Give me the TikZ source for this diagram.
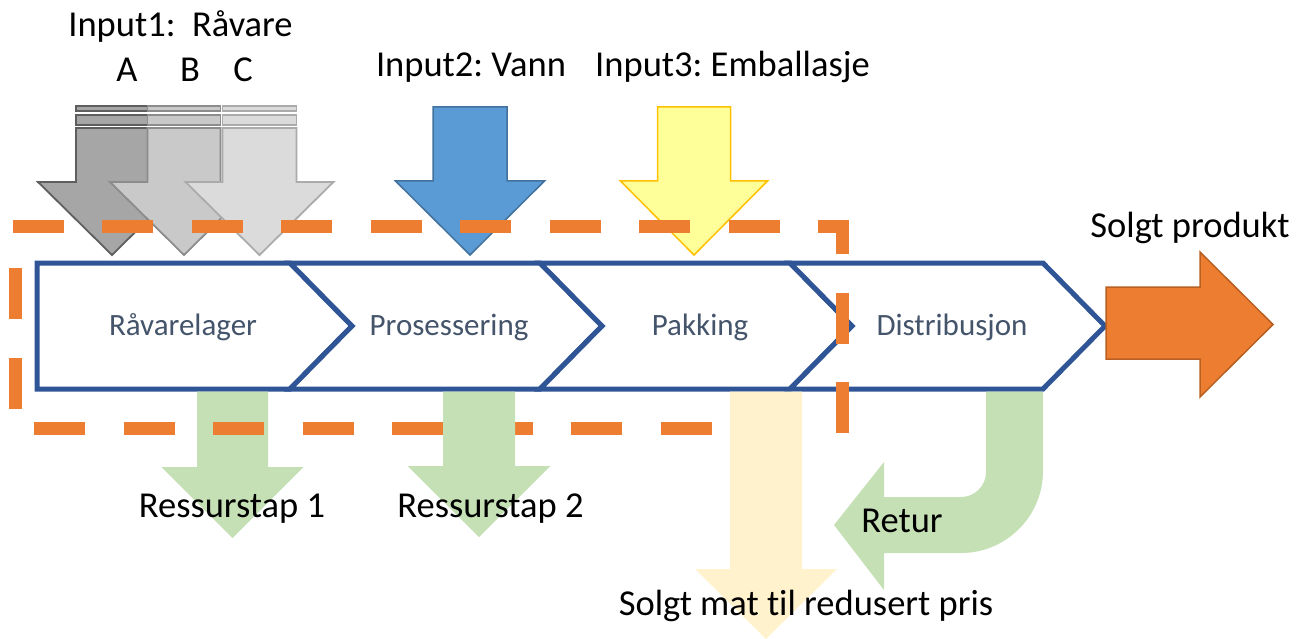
\documentclass[tikz,border=0pt]{standalone}
\usepackage{fontspec}
\setmainfont[Ligatures=NoCommon]{Carlito}
\frenchspacing
\definecolor{chevblue}{HTML}{2F5597}
\definecolor{chevtxt}{HTML}{44546A}
\definecolor{orng}{HTML}{ED7D31}
\definecolor{orngdark}{HTML}{B85F22}
\definecolor{lgreen}{HTML}{C5E0B4}
\definecolor{pyellow}{HTML}{FFF2CC}
\definecolor{wblue}{HTML}{5B9BD5}
\definecolor{wbluedark}{HTML}{41719C}
\definecolor{pkyellow}{HTML}{FFFF99}
\definecolor{pkyellowdark}{HTML}{FFC000}
\definecolor{grayAf}{HTML}{A6A6A6}
\definecolor{grayAd}{HTML}{5E5E5E}
\definecolor{grayBf}{HTML}{C9C9C9}
\definecolor{grayBd}{HTML}{8C8C8C}
\definecolor{grayCf}{HTML}{DBDBDB}
\definecolor{grayCd}{HTML}{ABABAB}
% style, cx, top, shoulder, tip, bodyhalf, headhalf
\newcommand{\dnarr}[7]{%
  \path[#1] ({#2-#6},#3) -- ({#2+#6},#3) -- ({#2+#6},#4) -- ({#2+#7},#4) -- (#2,#5)
    -- ({#2-#7},#4) -- ({#2-#6},#4) -- cycle;}
% striped arrow: style, cx, bodyhalf
\newcommand{\strarr}[3]{%
  \path[#1] ({#2-#3},106) rectangle ({#2+#3},111);
  \path[#1] ({#2-#3},115) rectangle ({#2+#3},125);
  \dnarr{#1}{#2}{128}{182}{255}{#3}{74}}
\begin{document}
\begin{tikzpicture}[x=1pt,y=-1pt,
  lbl/.style={font=\fontsize{36.5}{40}\selectfont, text=black, inner sep=0pt, anchor=base},
  chevtext/.style={font=\fontsize{31}{34}\selectfont, text=chevtxt, inner sep=0pt, anchor=base},
  chevshape/.style={draw=chevblue, line width=5pt, fill=white, line join=miter},
  grayA/.style={fill=grayAf, draw=grayAd, line width=1.8pt},
  grayB/.style={fill=grayBf, draw=grayBd, line width=1.8pt},
  grayC/.style={fill=grayCf, draw=grayCd, line width=1.8pt},
  bluearr/.style={fill=wblue, draw=wbluedark, line width=1.5pt},
  yelarr/.style={fill=pkyellow, draw=pkyellowdark, line width=1.5pt},
  greenarr/.style={fill=lgreen},
  salearr/.style={fill=pyellow},
  dashbox/.style={draw=orng, line width=13pt, line cap=rect, line join=miter,
    dash pattern=on 38pt off 51.5pt}
]
\useasboundingbox (0,0) rectangle (1309,639);

% input arrows
\strarr{grayA}{112}{36}
\strarr{grayB}{184}{36.5}
\strarr{grayC}{259.5}{37}
\dnarr{bluearr}{470}{107}{181}{255}{37}{74.5}
\dnarr{yelarr}{694}{107}{181}{255}{36.5}{73.5}

% chevrons
\path[chevshape] (37,263) -- (290,263) -- (352,326) -- (290,389) -- (37,389) -- cycle;
\path[chevshape] (290,263) -- (540,263) -- (602,326) -- (540,389) -- (290,389) -- (352,326) -- cycle;
\path[chevshape] (540,263) -- (790,263) -- (852,326) -- (790,389) -- (540,389) -- (602,326) -- cycle;
\path[chevshape] (790,263) -- (1043,263) -- (1105,326) -- (1043,389) -- (790,389) -- (852,326) -- cycle;

% output arrows below
\dnarr{greenarr}{232.5}{391.5}{467}{538}{35.5}{71}
\dnarr{salearr}{766}{391.5}{569}{639}{36}{71}
\path[greenarr] (986,391.5) -- (1043,391.5) -- (1043,471)
  .. controls (1043,516.3) and (1006.3,553) .. (961,553)
  -- (884,553) -- (884,590) -- (834,525) -- (884,462) -- (884,497) -- (961,497)
  .. controls (974.8,497) and (986,485.8) .. (986,472) -- cycle;

% dashed boundary
\path[dashbox] (842,426.5) -- (842,227) -- (15,227) -- (15,428) -- (715,428);

\dnarr{greenarr}{479}{391.5}{466}{537}{36}{71.5}

% sold product arrow
\path[fill=orng, draw=orngdark, line width=1.5pt]
  (1106,287) -- (1200,287) -- (1200,252) -- (1273,324.5) -- (1200,397) -- (1200,359) -- (1106,359) -- cycle;

% chevron texts
\node[chevtext] (t1) at (183,335) {Råvarelager};
\node[chevtext] (t2) at (449,335) {Prosessering};
\node[chevtext] (t3) at (700,335) {Pakking};
\node[chevtext] (t4) at (952,335) {Distribusjon};

% labels
\node[lbl] (in1) at (180.5,37) {Input1:\ \ Råvare};
\node[lbl] (la) at (127,82) {A};
\node[lbl] (lb) at (190,82) {B};
\node[lbl] (lc) at (243,82) {C};
\node[lbl] (in2) at (471,77) {Input2: Vann};
\node[lbl] (in3) at (732.5,77) {Input3: Emballasje};
\node[lbl] (sp) at (1190,237) {Solgt produkt};
\node[lbl] (r1) at (232,517) {Ressurstap 1};
\node[lbl] (r2) at (490.5,517) {Ressurstap 2};
\node[lbl] (ret) at (902,532) {Retur};
\node[lbl] (smp) at (806,615) {Solgt mat til redusert pris};
\end{tikzpicture}
\end{document}
